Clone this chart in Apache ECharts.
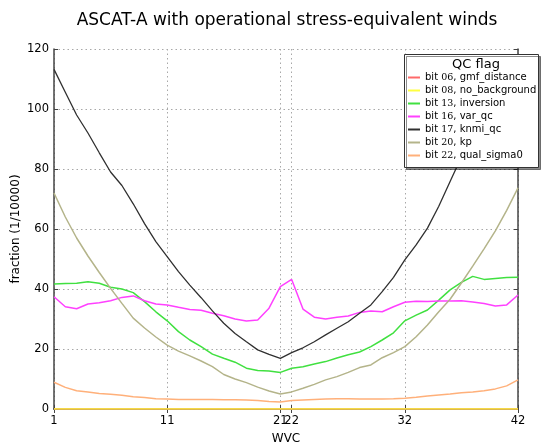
<!DOCTYPE html>
<html>
<head>
<meta charset="utf-8">
<script src="https://cdn.jsdelivr.net/npm/echarts@6/dist/echarts.min.js"></script>
<style>
  html, body { margin: 0; padding: 0; background: #fff; }
  #chart { width: 542px; height: 445px; }
</style>
</head>
<body>
<div id="chart"></div>
<script>
// Wind vector cell index (x axis)
const wvc = [1, 2, 3, 4, 5, 6, 7, 8, 9, 10, 11, 12, 13, 14, 15, 16, 17, 18, 19, 20, 21,
             22, 23, 24, 25, 26, 27, 28, 29, 30, 31, 32, 33, 34, 35, 36, 37, 38, 39, 40, 41, 42];
const xTicks = [1, 11, 21, 22, 32, 42];
const yTicks = [0, 20, 40, 60, 80, 100, 120];

// Fraction of flagged cells (1/10000) per QC flag bit
const gmfDistance = [0, 0, 0, 0, 0, 0, 0, 0, 0, 0, 0, 0, 0, 0, 0, 0, 0, 0, 0, 0, 0,
                     0, 0, 0, 0, 0, 0, 0, 0, 0, 0, 0, 0, 0, 0, 0, 0, 0, 0, 0, 0, 0];
const noBackground = [0, 0, 0, 0, 0, 0, 0, 0, 0, 0, 0, 0, 0, 0, 0, 0, 0, 0, 0, 0, 0,
                      0, 0, 0, 0, 0, 0, 0, 0, 0, 0, 0, 0, 0, 0, 0, 0, 0, 0, 0, 0, 0];
const inversion = [41.7, 41.8, 41.9, 42.4, 41.9, 40.6, 40.0, 38.8, 35.8, 32.4,
                   29.4, 25.8, 23.0, 20.8, 18.3, 16.9, 15.6, 13.6, 12.8, 12.7,
                   12.2, 13.6, 14.1, 15.0, 15.8, 17.0, 18.1, 19.0, 20.8, 23.0,
                   25.4, 29.4, 31.3, 33.0, 36.3, 39.7, 42.2, 44.2, 43.2, 43.5, 43.8, 43.9];
const varQc = [37.4, 34.1, 33.4, 35.0, 35.4, 36.1, 37.2, 37.7, 36.1, 35.0,
               34.7, 33.9, 33.2, 32.9, 31.9, 31.1, 30.0, 29.3, 29.7, 33.6,
               40.8, 43.2, 33.3, 30.6, 30.0, 30.6, 31.0, 32.2, 32.7, 32.4,
               34.1, 35.6, 35.9, 35.8, 36.0, 36.0, 36.1, 35.7, 35.2, 34.3, 34.7, 38.0];
const knmiQc = [113.2, 105.6, 98.0, 92.0, 85.4, 79.0, 74.5, 68.4, 61.8, 55.8,
                50.8, 45.8, 41.3, 37.1, 32.7, 28.6, 25.2, 22.4, 19.7, 18.2,
                16.9, 18.8, 20.4, 22.4, 24.7, 26.9, 29.1, 31.9, 34.7, 39.1,
                43.9, 49.7, 54.7, 60.3, 67.6, 75.8, 84.0, 91.0, 98.0, 104.0, 109.0, 114.0];
const kp = [72.0, 64.0, 57.0, 51.0, 45.5, 40.2, 35.2, 30.3, 27.0, 24.0,
            21.3, 19.3, 17.7, 16.0, 14.1, 11.5, 10.0, 8.8, 7.3, 6.0,
            5.0, 5.7, 6.9, 8.2, 9.7, 10.8, 12.2, 13.8, 14.7, 17.1,
            18.8, 20.8, 24.1, 28.0, 32.4, 36.6, 42.0, 47.6, 53.4, 59.4, 66.2, 73.7];
const qualSigma0 = [8.9, 7.2, 6.1, 5.7, 5.2, 4.9, 4.6, 4.1, 3.8, 3.4,
                    3.3, 3.2, 3.2, 3.2, 3.2, 3.1, 3.1, 3.0, 2.8, 2.5,
                    2.3, 2.8, 3.0, 3.2, 3.3, 3.4, 3.4, 3.3, 3.3, 3.3,
                    3.4, 3.6, 3.9, 4.3, 4.7, 5.0, 5.4, 5.7, 6.1, 6.7, 7.7, 9.7];

const flagNames = ['bit 06, gmf_distance', 'bit 08, no_background', 'bit 13, inversion',
                   'bit 16, var_qc', 'bit 17, knmi_qc', 'bit 20, kp', 'bit 22, qual_sigma0'];
const flagValues = [gmfDistance, noBackground, inversion, varQc, knmiQc, kp, qualSigma0];
const flagColors = ['#ff6a6a', '#ffff40', '#40e040', '#ff40ff', '#303030', '#b4b48a', '#ffb07a'];

const FONT = 'DejaVu Sans';
const frame = { show: true, lineStyle: { color: '#444', width: 1.5 } };
const grid = { type: [1.5, 3], color: '#a8a8a8', width: 1 };

const series = flagNames.map((name, k) => ({
  name: name,
  type: 'line',
  xAxisIndex: 0,
  yAxisIndex: 0,
  data: wvc.map((w, i) => [w, flagValues[k][i]]),
  showSymbol: false,
  symbol: 'none',
  lineStyle: { color: flagColors[k], width: k === 4 ? 1.3 : 1.5 },
  itemStyle: { color: flagColors[k] },
  animation: false,
  z: 2
}));

const chart = echarts.init(document.getElementById('chart'), null, { renderer: 'canvas' });
chart.setOption({
  animation: false,
  backgroundColor: '#fff',
  textStyle: { fontFamily: FONT },
  title: [
    {
      text: 'ASCAT-A with operational stress-equivalent winds',
      left: 282, top: 7, textAlign: 'center',
      textStyle: { fontFamily: FONT, fontSize: 17, fontWeight: 'normal', color: '#000' }
    },
    {
      text: 'QC flag',
      left: 471, top: 53, textAlign: 'center',
      z: 12,
      textStyle: { fontFamily: FONT, fontSize: 13, fontWeight: 'normal', color: '#000' }
    }
  ],
  graphic: [{
    type: 'rect',
    z: 9,
    shape: { x: 404.5, y: 54.5, width: 134, height: 113 },
    style: { fill: '#fff', stroke: '#333', lineWidth: 1,
             shadowColor: 'rgba(0,0,0,0.45)', shadowOffsetX: 2, shadowOffsetY: 2, shadowBlur: 0 }
  }],
  legend: {
    orient: 'vertical',
    left: 408, top: 71,
    padding: 0,
    itemGap: 0,
    itemWidth: 12,
    itemHeight: 2,
    icon: 'rect',
    z: 11,
    data: flagNames,
    selectedMode: false,
    formatter: name => {
      const m = name.match(/^bit (\d+), (.*)$/);
      return '{a|bit }{n|' + m[1] + '}{a|, ' + m[2] + '}';
    },
    textStyle: {
      fontFamily: FONT, fontSize: 10, color: '#000', lineHeight: 13,
      rich: {
        a: { fontFamily: FONT, fontSize: 10, color: '#000', lineHeight: 13 },
        n: { fontFamily: 'DejaVu Serif', fontSize: 9.5, color: '#000', lineHeight: 13 }
      }
    }
  },
  grid: { left: 54, right: 24, top: 49, bottom: 36, containLabel: false, outerBoundsMode: 'none' },
  xAxis: [
    {
      type: 'value', position: 'bottom', min: 1, max: 42,
      name: 'WVC', nameLocation: 'middle', nameGap: 24, nameMoveOverlap: false,
      nameTextStyle: { fontFamily: FONT, fontSize: 12, color: '#000' },
      axisLine: frame,
      axisTick: { show: true, inside: true, length: 4, customValues: xTicks, lineStyle: { color: '#444' } },
      axisLabel: { customValues: xTicks, fontFamily: FONT, fontSize: 11.5, color: '#000', margin: 6 },
      splitLine: { show: true, lineStyle: grid }
    },
    {
      type: 'value', position: 'top', min: 1, max: 42,
      axisLine: frame,
      axisTick: { show: true, inside: true, length: 4, customValues: xTicks, lineStyle: { color: '#444' } },
      axisLabel: { show: false },
      splitLine: { show: false }
    }
  ],
  yAxis: [
    {
      type: 'value', position: 'left', min: 0, max: 120, interval: 20,
      name: 'fraction (1/10000)', nameLocation: 'middle', nameGap: 32, nameMoveOverlap: false,
      nameTextStyle: { fontFamily: FONT, fontSize: 12, color: '#000' },
      axisLine: frame,
      axisTick: { show: true, inside: true, length: 4, lineStyle: { color: '#444' } },
      axisLabel: { fontFamily: FONT, fontSize: 11.5, color: '#000', margin: 5 },
      splitLine: { show: true, lineStyle: grid }
    },
    {
      type: 'value', position: 'right', min: 0, max: 120, interval: 20,
      axisLine: frame,
      axisTick: { show: true, inside: true, length: 4, lineStyle: { color: '#444' } },
      axisLabel: { show: false },
      splitLine: { show: false }
    }
  ],
  series: series
});
</script>
</body>
</html>
